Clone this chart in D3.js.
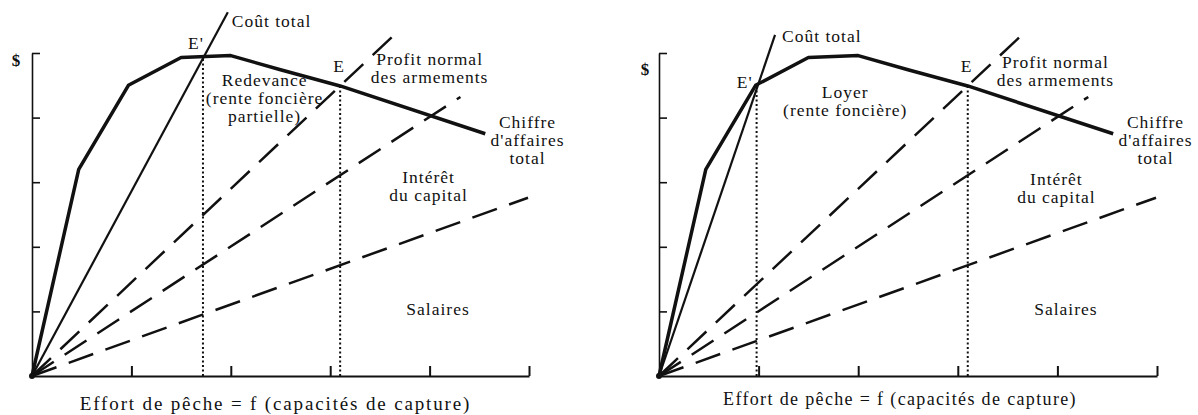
<!DOCTYPE html>
<html lang="fr">
  <head>
    <meta charset="UTF-8" />
    <title>Effort de pêche</title>
    <script src="https://d3js.org/d3.v7.min.js"></script>
    <style>
      body { margin: 0; background: #fff; }
      text { font-family: "Liberation Serif", "Times New Roman", serif; fill: #111; }
      .axis path, .axis line { stroke: #111; }
      .revenue { fill: none; stroke: #111; stroke-width: 3.5px; stroke-linejoin: round; }
      .cost { fill: none; stroke: #111; stroke-width: 2.2px; }
      .dashed { fill: none; stroke: #111; stroke-width: 2.5px; stroke-dasharray: 26,13; }
      .dotted { fill: none; stroke: #111; stroke-width: 2px; stroke-dasharray: 2,2.5; }
      .lbl { font-size: 17.5px; letter-spacing: 1px; }
    </style>
  </head>
  <body>
    <svg id="chart" width="1198" height="415"></svg>
    <script>
      // effort (x) and $ (y), both on 0..5 unit scale
      const xTicks = [1, 2, 3, 4, 5];
      const yTicks = [1, 2, 3, 4, 5];

      // chiffre d'affaires total (same curve in both panels)
      const revenue = [[0, 0], [0.47, 3.2], [0.97, 4.5], [1.5, 4.93], [2.0, 4.96],
                       [2.5, 4.74], [3.1, 4.49], [4.56, 3.75]];

      // cost components, cumulative lines from the origin
      const wages = [[0, 0], [4.99, 2.76]];
      const wagesInterest = [[0, 0], [4.31, 4.32]];
      const wagesInterestProfit = [[0, 0], [3.63, 5.26]];

      // coût total: with redevance (left) and with loyer (right)
      const costLeft = [[0, 0], [1.97, 5.63]];
      const costRight = [[0, 0], [1.165, 5.28]];

      const eOpen = [3.1, 4.49];
      const ePrimeLeft = [1.72, 4.92];
      const ePrimeRight = [0.98, 4.5];

      const svg = d3.select("#chart");
      const line = d3.line();

      function panel(opt) {
        const x = d3.scaleLinear().domain([0, 5]).range([opt.x0, opt.x1]);
        const y = d3.scaleLinear().domain([0, 5]).range([376, 53]);
        const g = svg.append("g");
        const path = pts => line(pts.map(d => [x(d[0]), y(d[1])]));

        g.append("g").attr("class", "axis")
          .attr("transform", "translate(" + opt.x0 + ",0)")
          .style("stroke-width", "1.6px")
          .call(d3.axisLeft(y).tickValues(yTicks).tickSizeInner(-8).tickSizeOuter(0).tickFormat(""));
        g.append("g").attr("class", "axis")
          .attr("transform", "translate(0,376)")
          .style("stroke-width", "2px")
          .call(d3.axisBottom(x).tickValues(xTicks).tickSizeInner(-10).tickSizeOuter(0).tickFormat(""));

        [eOpen, opt.ePrime].forEach(e => {
          g.append("path").attr("class", "dotted")
            .attr("d", path([[e[0], 0], e]));
        });

        [wages, wagesInterest, wagesInterestProfit].forEach(d => {
          g.append("path").attr("class", "dashed").attr("d", path(d));
        });
        g.append("path").attr("class", "cost").attr("d", path(opt.cost));
        g.append("path").attr("class", "revenue").attr("d", path(revenue));
        g.append("circle").attr("cx", x(0)).attr("cy", y(0)).attr("r", 3).attr("fill", "#111");

        g.append("text").attr("x", opt.x0 - opt.dollarDx).attr("y", opt.dollarY)
          .attr("text-anchor", "middle").style("font-size", "17px").style("font-weight", "bold")
          .text("$");

        const label = (lines, px, py, anchor) => {
          const t = g.append("text").attr("class", "lbl")
            .attr("text-anchor", anchor || "middle")
            .attr("x", x(px)).attr("y", y(py));
          lines.forEach((s, i) => {
            t.append("tspan").attr("x", x(px)).attr("dy", i ? 18 : 0).text(s);
          });
        };

        label(["Coût total"], opt.costLbl[0], opt.costLbl[1], "start");
        label(["E'"], opt.ePrimeLbl[0], opt.ePrimeLbl[1], "start");
        label(opt.rent, opt.rentLbl[0], opt.rentLbl[1]);
        label(["E"], 3.03, 4.71, "start");
        label(["Profit normal", "des armements"], opt.profitX, opt.profitY);
        label(["Chiffre", "d'affaires", "total"], 4.985, 3.84);
        label(["Intérêt", "du capital"], 3.99, opt.interetY);
        label(["Salaires"], 4.085, 0.94);

        g.append("text").attr("x", (opt.x0 + opt.x1) / 2 - opt.xLblShift).attr("y", opt.xLblY)
          .attr("text-anchor", "middle")
          .style("font-size", opt.xLblSize + "px").style("letter-spacing", opt.xLblLs + "px")
          .text("Effort de pêche = f (capacités de capture)");
      }

      panel({
        x0: 32, x1: 529, cost: costLeft, ePrime: ePrimeLeft,
        dollarDx: 16, dollarY: 66,
        costLbl: [2.01, 5.4], ePrimeLbl: [1.57, 5.06],
        rent: ["Redevance", "(rente foncière", "partielle)"], rentLbl: [2.34, 4.49],
        profitX: 4.0, profitY: 4.81, interetY: 2.99,
        xLblShift: 5, xLblY: 410, xLblSize: 19, xLblLs: 1.85
      });

      panel({
        x0: 659, x1: 1157, cost: costRight, ePrime: ePrimeRight,
        dollarDx: 14, dollarY: 75,
        costLbl: [1.235, 5.17], ePrimeLbl: [0.78, 4.46],
        rent: ["Loyer", "(rente foncière)"], rentLbl: [1.87, 4.3],
        profitX: 3.98, profitY: 4.77, interetY: 2.96,
        xLblShift: 8, xLblY: 405, xLblSize: 18, xLblLs: 1.35
      });
    </script>
  </body>
</html>
